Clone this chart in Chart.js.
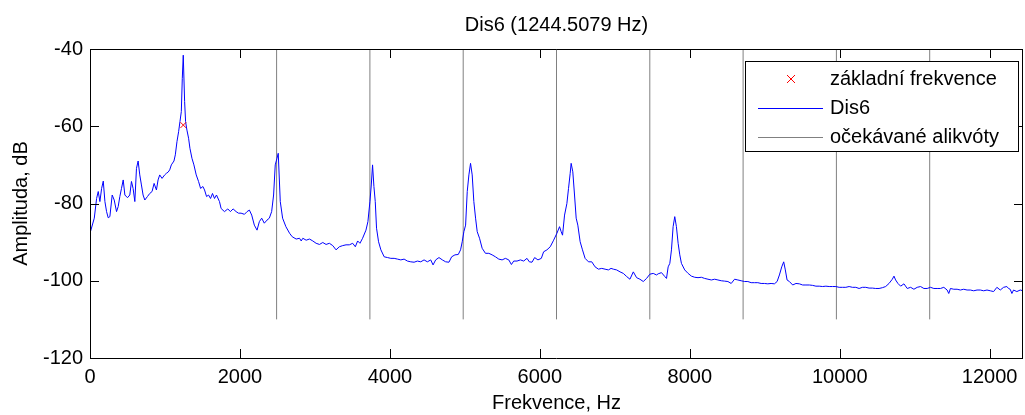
<!DOCTYPE html>
<html>
<head>
<meta charset="utf-8">
<script src="https://cdn.jsdelivr.net/npm/chart.js@4/dist/chart.umd.min.js"></script>
<style>
html, body { margin:0; padding:0; background:#fff; overflow:hidden; }
#wrap { width:1028px; height:415px; }
</style>
</head>
<body>
<div id="wrap"><canvas id="c" width="1028" height="415"></canvas></div>
<script>
var chartTitle = 'Dis6 (1244.5079 Hz)';
var f0 = 1244.5079;
var f0Db = -59.7;
var harmonics = [2, 3, 4, 5, 6, 7, 8, 9, 10];
var harmonicBottom = -110;
var harmonicTop = -40;
var legendLabels = ['základní frekvence', 'Dis6', 'očekávané alikvóty'];
var xTicks = [0, 2000, 4000, 6000, 8000, 10000, 12000];
var yTicks = [-120, -100, -80, -60, -40];

// spectrum (Hz / dB)
var freqHz = [
  0, 13, 57, 88, 110, 132, 155, 177, 199, 221, 243, 265, 296, 323, 354, 376, 398, 420, 443, 465,
  500, 531, 553, 575, 598, 620, 642, 664, 686, 708, 731, 766, 797, 828, 855, 886, 908, 930, 961, 996,
  1018, 1041, 1063, 1085, 1120, 1138, 1160, 1182, 1200, 1218, 1231, 1244, 1262, 1275, 1293, 1315, 1333, 1360, 1386, 1417,
  1448, 1475, 1506, 1528, 1555, 1581, 1608, 1634, 1661, 1687, 1727, 1749, 1794, 1838, 1873, 1909, 1949, 1980, 2015, 2060,
  2095, 2126, 2157, 2192, 2228, 2259, 2290, 2325, 2361, 2392, 2423, 2449, 2471, 2494, 2511, 2538, 2569, 2613, 2662, 2697,
  2750, 2795, 2817, 2839, 2883, 2928, 2972, 3016, 3061, 3105, 3149, 3193, 3238, 3282, 3326, 3371, 3415, 3459, 3504, 3539,
  3570, 3601, 3636, 3681, 3707, 3734, 3752, 3769, 3787, 3805, 3822, 3849, 3880, 3924, 3969, 4013, 4057, 4102, 4146, 4190,
  4234, 4279, 4323, 4367, 4412, 4456, 4500, 4545, 4576, 4611, 4655, 4700, 4744, 4788, 4824, 4868, 4912, 4943, 4965, 4987,
  5010, 5032, 5054, 5076, 5098, 5120, 5143, 5165, 5196, 5231, 5275, 5320, 5364, 5408, 5453, 5497, 5541, 5586, 5621, 5652,
  5696, 5741, 5785, 5829, 5860, 5896, 5931, 5975, 6020, 6051, 6095, 6139, 6184, 6228, 6263, 6285, 6303, 6330, 6361, 6383,
  6405, 6418, 6440, 6463, 6485, 6507, 6538, 6569, 6604, 6649, 6693, 6737, 6782, 6826, 6870, 6915, 6950, 6981, 7025, 7070,
  7114, 7158, 7202, 7247, 7291, 7335, 7380, 7424, 7468, 7513, 7557, 7579, 7623, 7667, 7690, 7712, 7734, 7756, 7778, 7800,
  7822, 7845, 7867, 7889, 7933, 7978, 8022, 8066, 8110, 8155, 8199, 8243, 8288, 8332, 8376, 8421, 8465, 8509, 8553, 8598,
  8642, 8686, 8731, 8775, 8819, 8864, 8908, 8952, 8996, 9041, 9085, 9129, 9165, 9196, 9227, 9253, 9275, 9298, 9329, 9373,
  9417, 9462, 9506, 9550, 9595, 9639, 9683, 9727, 9772, 9816, 9860, 9905, 9949, 9993, 10037, 10082, 10126, 10170, 10215, 10259,
  10303, 10348, 10392, 10436, 10480, 10525, 10569, 10613, 10658, 10702, 10724, 10746, 10777, 10813, 10857, 10901, 10946, 10990, 11034, 11079,
  11123, 11167, 11211, 11256, 11300, 11344, 11389, 11433, 11455, 11477, 11522, 11566, 11610, 11654, 11699, 11743, 11787, 11832, 11876, 11920,
  11965, 12009, 12053, 12097, 12142, 12186, 12230, 12252, 12274, 12297, 12319, 12363, 12408, 12445
];
var ampDb = [
  -87.7, -87.7, -83.8, -78.7, -76.9, -79.5, -76.1, -74.2, -79.5, -82.1, -83.7, -83.4, -77.8, -79.1, -82.1, -80.8, -78.2, -76.1, -73.9, -77.8,
  -78.5, -77.8, -74.3, -76.1, -79.5, -70.9, -69.0, -72.6, -75.2, -77.8, -79.1, -78.2, -77.4, -76.9, -74.8, -76.5, -73.9, -72.6, -73.5, -72.6,
  -72.2, -71.9, -71.3, -70.0, -69.0, -67.4, -64.0, -61.4, -58.8, -56.2, -47.6, -41.6, -53.6, -58.8, -61.0, -63.1, -65.7, -68.3, -70.0, -72.6,
  -74.3, -76.1, -75.6, -76.5, -78.2, -77.8, -78.7, -77.4, -78.7, -77.8, -79.5, -81.3, -82.1, -81.4, -82.1, -81.4, -82.1, -82.5, -82.5, -82.8,
  -82.1, -81.7, -83.0, -85.6, -86.9, -84.7, -83.8, -85.1, -84.3, -83.8, -82.1, -77.8, -70.0, -68.3, -67.0, -79.5, -83.8, -86.0, -87.7, -88.6,
  -89.2, -89.0, -89.7, -89.0, -89.5, -89.2, -89.7, -90.3, -90.6, -90.1, -90.6, -90.3, -90.9, -92.0, -91.2, -90.9, -90.7, -90.7, -90.3, -91.2,
  -89.7, -90.3, -89.0, -86.9, -84.7, -79.5, -75.2, -70.0, -75.6, -79.5, -86.4, -89.9, -92.0, -93.8, -94.0, -94.2, -94.2, -94.4, -94.6, -94.4,
  -94.9, -95.1, -95.2, -94.9, -95.1, -94.6, -95.1, -94.6, -95.9, -94.6, -94.0, -94.6, -95.1, -95.2, -93.8, -93.3, -93.2, -92.0, -89.9, -87.3,
  -85.6, -76.9, -72.6, -69.6, -72.6, -79.5, -83.8, -87.3, -89.0, -91.6, -92.9, -92.9, -93.3, -93.8, -94.4, -94.6, -94.2, -94.6, -95.8, -94.9,
  -94.9, -94.6, -94.9, -94.2, -95.1, -95.2, -94.0, -94.6, -94.2, -92.5, -92.0, -91.2, -89.5, -87.7, -86.0, -87.3, -88.2, -83.0, -80.0, -76.1,
  -72.2, -69.6, -71.8, -77.8, -83.8, -85.6, -89.9, -92.0, -94.2, -95.1, -95.1, -96.4, -97.0, -96.8, -97.0, -97.2, -96.8, -97.0, -97.2, -97.7,
  -98.1, -98.9, -99.6, -97.7, -99.2, -99.6, -100.2, -99.4, -98.3, -98.1, -98.5, -98.2, -97.9, -98.9, -99.4, -96.4, -95.5, -92.0, -86.0, -83.4,
  -86.0, -90.3, -93.3, -95.5, -97.2, -98.1, -98.8, -99.1, -99.2, -99.1, -99.4, -99.6, -99.8, -99.6, -99.8, -100.0, -100.1, -100.2, -100.7, -99.6,
  -99.8, -100.0, -100.2, -100.2, -100.5, -100.5, -100.5, -100.7, -100.7, -100.8, -100.7, -100.8, -100.2, -98.5, -96.4, -95.1, -97.2, -99.8, -100.2, -101.1,
  -100.7, -100.8, -101.1, -101.1, -101.1, -101.2, -101.4, -101.4, -101.5, -101.4, -101.5, -101.5, -101.5, -101.7, -101.7, -101.7, -101.5, -101.7, -101.7, -102.0,
  -101.7, -101.7, -101.9, -101.9, -102.0, -102.0, -101.8, -101.5, -100.7, -99.6, -98.8, -99.8, -100.7, -101.4, -100.8, -102.0, -101.7, -102.2, -101.7, -101.5,
  -102.0, -102.0, -101.7, -102.0, -102.0, -102.0, -101.7, -102.4, -103.3, -102.0, -102.2, -102.2, -102.4, -102.2, -102.4, -102.4, -102.6, -102.4, -102.4, -102.6,
  -102.4, -102.6, -102.8, -101.7, -102.4, -101.7, -101.5, -102.0, -102.2, -103.3, -102.4, -102.8, -102.4, -102.6
];

var FONT = "'Liberation Sans', Arial, sans-serif";
Chart.defaults.font.family = FONT;
Chart.defaults.font.size = 20;
Chart.defaults.color = '#000';

var spectrum = freqHz.map(function(f, i){ return {x: f, y: ampDb[i]}; });

var datasets = [
  {
    label: legendLabels[0],
    data: [{x: f0, y: f0Db}],
    showLine: false,
    pointStyle: 'crossRot',
    pointRadius: 4,
    borderColor: '#ff0000',
    backgroundColor: '#ff0000',
    pointBorderWidth: 1
  },
  {
    label: legendLabels[1],
    data: spectrum,
    showLine: true,
    borderColor: '#0000ff',
    borderWidth: 1,
    pointRadius: 0,
    tension: 0
  }
];
harmonics.forEach(function(k){
  datasets.push({
    label: legendLabels[2],
    data: [{x: k * f0, y: harmonicBottom}, {x: k * f0, y: harmonicTop}],
    showLine: true,
    borderColor: '#808080',
    borderWidth: 1,
    pointRadius: 0
  });
});

// title, box with inward ticks, legend
var decor = {
  id: 'decor',
  afterDraw: function(chart) {
    var ctx = chart.ctx, a = chart.chartArea;
    var xs = chart.scales.x, ys = chart.scales.y;
    ctx.save();
    ctx.strokeStyle = '#000';
    ctx.lineWidth = 1;
    ctx.beginPath();
    xs.ticks.forEach(function(t){
      var px = Math.round(xs.getPixelForValue(t.value)) + 0.5;
      ctx.moveTo(px, a.bottom); ctx.lineTo(px, a.bottom - 9);
      ctx.moveTo(px, a.top); ctx.lineTo(px, a.top + 9);
    });
    ys.ticks.forEach(function(t){
      var py = Math.round(ys.getPixelForValue(t.value)) + 0.5;
      ctx.moveTo(a.left, py); ctx.lineTo(a.left + 9, py);
      ctx.moveTo(a.right, py); ctx.lineTo(a.right - 9, py);
    });
    ctx.rect(Math.round(a.left) + 0.5, Math.round(a.top) + 0.5,
             Math.round(a.right - a.left) - 1, Math.round(a.bottom - a.top));
    ctx.stroke();

    ctx.fillStyle = '#000';
    ctx.font = '20px ' + FONT;
    ctx.textAlign = 'center';
    ctx.textBaseline = 'middle';
    ctx.fillText(chartTitle, (a.left + a.right) / 2, 25);

    // legend
    var lx = a.right - 278, ly = a.top + 12, lw = 273, lh = 90;
    ctx.fillStyle = '#fff';
    ctx.fillRect(lx, ly, lw, lh);
    ctx.strokeStyle = '#000';
    ctx.strokeRect(lx + 0.5, ly + 0.5, lw, lh);
    var rows = [ly + 18, ly + 47, ly + 76];
    ctx.strokeStyle = '#ff0000';
    ctx.beginPath();
    ctx.moveTo(lx + 42, rows[0] - 4); ctx.lineTo(lx + 50, rows[0] + 4);
    ctx.moveTo(lx + 50, rows[0] - 4); ctx.lineTo(lx + 42, rows[0] + 4);
    ctx.stroke();
    ctx.strokeStyle = '#0000ff';
    ctx.beginPath();
    ctx.moveTo(lx + 13, rows[1] + 0.5); ctx.lineTo(lx + 78, rows[1] + 0.5);
    ctx.stroke();
    ctx.strokeStyle = '#808080';
    ctx.beginPath();
    ctx.moveTo(lx + 13, rows[2] + 0.5); ctx.lineTo(lx + 78, rows[2] + 0.5);
    ctx.stroke();
    ctx.fillStyle = '#000';
    ctx.textAlign = 'left';
    legendLabels.forEach(function(s, i){ ctx.fillText(s, lx + 85, rows[i]); });
    ctx.restore();
  }
};

new Chart(document.getElementById('c'), {
  type: 'scatter',
  data: { datasets: datasets },
  options: {
    responsive: false,
    animation: false,
    devicePixelRatio: 1,
    layout: { padding: { top: 49, right: 2, left: 0, bottom: 0 } },
    plugins: { legend: { display: false }, tooltip: { enabled: false }, title: { display: false } },
    scales: {
      x: {
        type: 'linear',
        min: 0,
        max: 10 * f0,
        grid: { display: false },
        border: { display: false },
        ticks: { includeBounds: false, maxRotation: 0, padding: -1, callback: function(v){ return String(v); } },
        afterBuildTicks: function(s){ s.ticks = xTicks.map(function(v){ return {value: v}; }); },
        afterFit: function(s){ s.height = 57; },
        title: { display: true, text: 'Frekvence, Hz', padding: { top: 0, bottom: 0 } }
      },
      y: {
        min: -120,
        max: -40,
        grid: { display: false },
        border: { display: false },
        ticks: { padding: -1, callback: function(v){ return String(v); } },
        afterBuildTicks: function(s){ s.ticks = yTicks.map(function(v){ return {value: v}; }); },
        afterFit: function(s){ s.width = 90; },
        title: { display: true, text: 'Amplituda, dB', padding: { top: 9, bottom: 0 } }
      }
    }
  },
  plugins: [decor]
});
</script>
</body>
</html>
